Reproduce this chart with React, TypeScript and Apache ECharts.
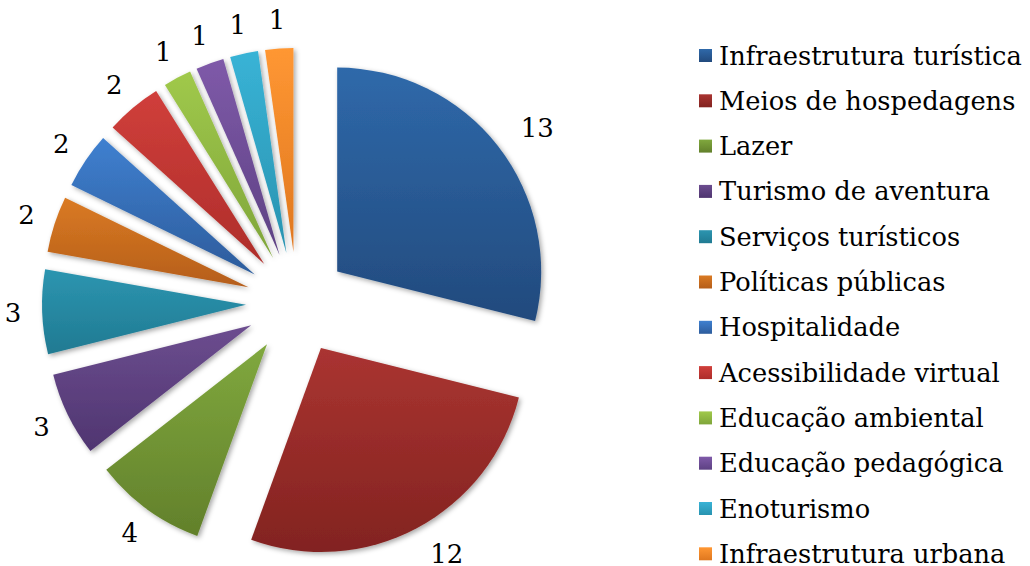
import React, { useEffect, useRef } from "react";
import * as echarts from "echarts";

const categories = [
  "Infraestrutura turística",
  "Meios de hospedagens",
  "Lazer",
  "Turismo de aventura",
  "Serviços turísticos",
  "Políticas públicas",
  "Hospitalidade",
  "Acessibilidade virtual",
  "Educação ambiental",
  "Educação pedagógica",
  "Enoturismo",
  "Infraestrutura urbana",
];

const values = [13, 12, 4, 3, 3, 2, 2, 2, 1, 1, 1, 1];

const topColors = [
  "#2F69AA", "#AA3431", "#80A83E", "#6C4D8F", "#2C95B0", "#DA7A23",
  "#3F80D0", "#D03F3B", "#A0C94B", "#7F5AA9", "#39B3D6", "#FF9733",
];
const bottomColors = [
  "#224A7D", "#822320", "#62802B", "#4F3570", "#207A92", "#B55E1A",
  "#2D5C9C", "#AE2D2A", "#7FA53A", "#5D4183", "#2893B0", "#DF771F",
];

const FONT = "DejaVu Serif";

export default function App() {
  const ref = useRef<HTMLDivElement>(null);

  useEffect(() => {
    if (!ref.current) return;
    const chart = echarts.init(ref.current, null, { renderer: "svg" });
    const total = values.reduce((a, b) => a + b, 0);
    let cum = 0;
    const data = categories.map((name, i) => {
      const mid = (cum + values[i] / 2) / total;
      cum += values[i];
      const leftSide = mid > 0.5;
      return {
        name,
        value: values[i],
        selected: true,
        label: { distanceToLabelLine: leftSide ? -8 : 0 },
        itemStyle: {
          color: new echarts.graphic.LinearGradient(0, 0, 0, 1, [
            { offset: 0, color: topColors[i] },
            { offset: 1, color: bottomColors[i] },
          ]),
        },
      };
    });
    chart.setOption({
      animation: false,
      backgroundColor: "#ffffff",
      legend: {
        orient: "vertical",
        left: 699,
        top: 40.5,
        height: 548,
        padding: 0,
        itemWidth: 13,
        itemHeight: 13,
        itemGap: 15.3,
        icon: "rect",
        selectedMode: false,
        textStyle: {
          fontFamily: FONT,
          fontSize: 25.7,
          color: "#000000",
          lineHeight: 30,
          padding: [0, 0, 0, 2],
        },
        data: categories,
      },
      series: [
        {
          type: "pie",
          center: [297, 303],
          radius: 204,
          startAngle: 90,
          clockwise: true,
          selectedMode: "multiple",
          selectedOffset: 51,
          avoidLabelOverlap: false,
          emphasis: { disabled: true },
          itemStyle: {
            shadowBlur: 5,
            shadowColor: "rgba(0,0,0,0.35)",
            shadowOffsetX: 2,
            shadowOffsetY: 2,
          },
          label: {
            show: true,
            position: "outside",
            formatter: "{c}",
            fontFamily: FONT,
            fontSize: 26,
            color: "#000000",
            distanceToLabelLine: 0,
          },
          labelLine: { show: false, length: 29, length2: 0 },
          data,
        },
      ],
    });
    return () => chart.dispose();
  }, []);

  return (
    <div
      ref={ref}
      style={{ position: "fixed", left: 0, top: 0, width: 1030, height: 566 }}
    />
  );
}
